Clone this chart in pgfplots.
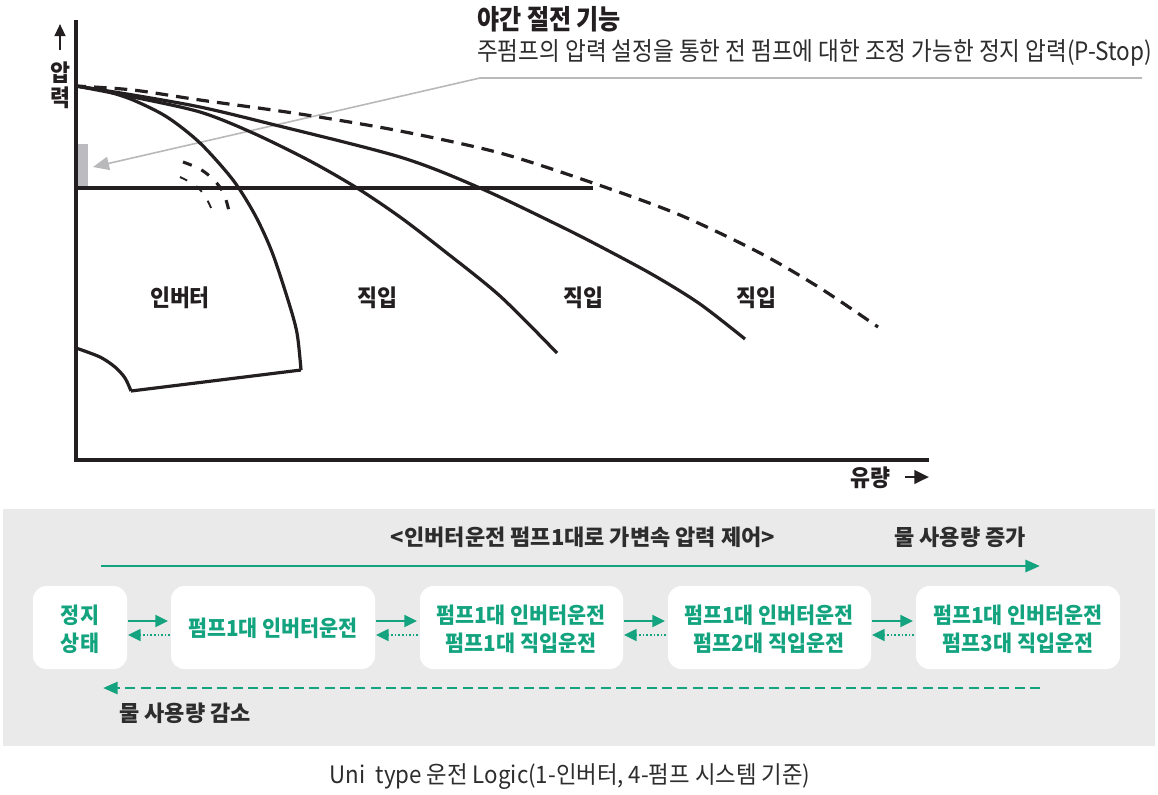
\documentclass[border=0pt]{standalone}
\usepackage{pgfplots}
\pgfplotsset{compat=1.18}
\usetikzlibrary{arrows.meta}
\usepackage{fontspec}
\setmainfont{Noto Sans CJK KR}

\definecolor{ink}{RGB}{35,31,32}
\definecolor{dk}{RGB}{45,45,45}
\definecolor{grn}{RGB}{19,163,127}
\definecolor{panel}{RGB}{234,234,234}
\definecolor{lead}{RGB}{185,185,187}
\definecolor{pstop}{RGB}{188,188,192}

\tikzset{
  curve/.style={ink, line width=2.4pt, smooth},
  lbl/.style={font=\bfseries\fontsize{17.5}{20}\selectfont, text=ink, inner sep=0pt, xscale=0.93},
  boxt/.style={font=\bfseries\fontsize{16.5}{21}\selectfont, text=grn, inner sep=0pt, align=center, xscale=0.94},
  hdr/.style={font=\bfseries\fontsize{16.5}{19}\selectfont, text=dk, inner sep=0pt, xscale=1.0},
}

\begin{document}
\begin{tikzpicture}
\begin{axis}[
    width=868.5pt, height=595.5pt, scale only axis, hide axis,
    xmin=0, xmax=1158, ymin=0, ymax=794, y dir=reverse, clip=false,
]
% page
\addplot[draw=none, fill=white] coordinates {(0,0) (1158,0) (1158,794) (0,794)} -- cycle;

% ---- pump curve diagram ----
% axes
\addplot[ink, line width=2.4pt] coordinates {(76,20) (76,460) (929,460)};
\addplot[ink, line width=1.6pt, -{Triangle[length=9pt,width=8pt]}] coordinates {(60,50) (60,24)};
\addplot[ink, line width=2.2pt, -{Triangle[length=11pt,width=10pt]}] coordinates {(905,477) (929,477)};

% p-stop marker and level
\addplot[draw=none, fill=pstop] coordinates {(78,144) (88,144) (88,187) (78,187)} -- cycle;
\addplot[ink, line width=2.4pt] coordinates {(76,188) (593,188)};

% leader from the note
\addplot[lead, line width=1.2pt, -{Triangle[length=12pt,width=10pt]}] coordinates {(1142,78) (480,78) (93,167)};

% inverter curve and operating region
\addplot[curve] coordinates {
    (76,86) (105,91) (133,100) (167,117) (200,143) (233,180)
    (255,215) (272,252) (288,300) (297,333) (301,370)
};
\addplot[ink, line width=2.4pt] coordinates {(301,370) (131,391)};
\addplot[curve] coordinates {(131,391) (125,378) (115,367) (100,357) (76,348)};

% direct-on-line curves
\addplot[curve] coordinates {
    (76,86) (133,97) (200,112) (253,133) (310,161) (357,188)
    (400,217) (443,250) (500,296) (557,353)
};
\addplot[curve] coordinates {
    (76,86) (133,95) (200,107) (267,123) (400,157) (480,188)
    (560,226) (607,250) (655,276) (700,304) (745,339)
};
% dashed maximum curve
\addplot[curve, dash pattern=on 9.5pt off 6pt, dash phase=2pt] coordinates {
    (76,86) (133,90) (200,100) (300,114) (400,131) (500,153)
    (593,183) (680,215) (760,253) (820,288) (878,327)
};

% small dashed arcs
\addplot[ink, line width=2.3pt, smooth, dash pattern=on 7pt off 8pt] coordinates {
    (183,162) (200,169) (214,180) (224,194) (230,215)
};
\addplot[ink, line width=1.4pt, smooth, dash pattern=on 6pt off 8pt] coordinates {
    (180,177) (195,185) (205,196) (212,210)
};

% texts
\node[anchor=west, font=\bfseries\fontsize{20.5}{23}\selectfont, text=ink, inner sep=0pt, xscale=0.88]
    at (axis cs:477,19) {야간 절전 기능};
\node[anchor=west, font=\fontsize{19}{22}\selectfont, text=dk, inner sep=0pt, xscale=0.89]
    at (axis cs:477,53) {주펌프의 압력 설정을 통한 전 펌프에 대한 조정 가능한 정지 압력(P-Stop)};
\node[lbl] at (axis cs:60,73) {압};
\node[lbl] at (axis cs:60,98) {력};
\node[lbl] at (axis cs:180,298) {인버터};
\node[lbl] at (axis cs:377,298) {직입};
\node[lbl] at (axis cs:583,298) {직입};
\node[lbl] at (axis cs:756,298) {직입};
\node[lbl, anchor=east] at (axis cs:891,478) {유량};

% ---- operating logic panel ----
\addplot[draw=none, fill=panel] coordinates {(3,509) (1155,509) (1155,746) (3,746)} -- cycle;

\node[hdr] at (axis cs:583,537) {<인버터운전 펌프1대로 가변속 압력 제어>};
\node[hdr] at (axis cs:960,537) {물 사용량 증가};
\node[hdr] at (axis cs:185,713) {물 사용량 감소};

\addplot[grn, line width=2.2pt, -{Triangle[length=11pt,width=9pt]}] coordinates {(101,566) (1040,566)};
\addplot[grn, line width=2.2pt, dash pattern=on 7.5pt off 4pt, -{Triangle[length=11pt,width=9pt]}]
    coordinates {(1040,688) (103,688)};

% boxes (start mid top edge so every corner is rounded)
\addplot[draw=none, fill=white, rounded corners=10pt] coordinates {(80,586) (127,586) (127,669) (33,669) (33,586)} -- cycle;
\addplot[draw=none, fill=white, rounded corners=10pt] coordinates {(273,586) (375,586) (375,669) (171,669) (171,586)} -- cycle;
\addplot[draw=none, fill=white, rounded corners=10pt] coordinates {(521,586) (623,586) (623,669) (420,669) (420,586)} -- cycle;
\addplot[draw=none, fill=white, rounded corners=10pt] coordinates {(769,586) (871,586) (871,669) (668,669) (668,586)} -- cycle;
\addplot[draw=none, fill=white, rounded corners=10pt] coordinates {(1018,586) (1120,586) (1120,669) (916,669) (916,586)} -- cycle;

\node[boxt] at (axis cs:80,629) {정지\\상태};
\node[boxt] at (axis cs:273,628) {펌프1대 인버터운전};
\node[boxt] at (axis cs:521,629) {펌프1대 인버터운전\\펌프1대 직입운전};
\node[boxt] at (axis cs:769,629) {펌프1대 인버터운전\\펌프2대 직입운전};
\node[boxt] at (axis cs:1018,629) {펌프1대 인버터운전\\펌프3대 직입운전};

% step arrows between boxes
\addplot[grn, line width=1.5pt, -{Triangle[length=9.5pt,width=9pt]}] coordinates {(128,621) (168,621)};
\addplot[grn, line width=1.5pt, -{Triangle[length=9.5pt,width=9pt]}] coordinates {(376,621) (417,621)};
\addplot[grn, line width=1.5pt, -{Triangle[length=9.5pt,width=9pt]}] coordinates {(624,621) (665,621)};
\addplot[grn, line width=1.5pt, -{Triangle[length=9.5pt,width=9pt]}] coordinates {(872,621) (913,621)};
\addplot[grn, line width=1.2pt, dash pattern=on 1.2pt off 1.5pt, -{Triangle[length=9.5pt,width=9pt]}] coordinates {(170,635) (128,635)};
\addplot[grn, line width=1.2pt, dash pattern=on 1.2pt off 1.5pt, -{Triangle[length=9.5pt,width=9pt]}] coordinates {(418,635) (376,635)};
\addplot[grn, line width=1.2pt, dash pattern=on 1.2pt off 1.5pt, -{Triangle[length=9.5pt,width=9pt]}] coordinates {(666,635) (624,635)};
\addplot[grn, line width=1.2pt, dash pattern=on 1.2pt off 1.5pt, -{Triangle[length=9.5pt,width=9pt]}] coordinates {(914,635) (872,635)};

% caption
\node[font=\fontsize{18}{21}\selectfont, text=dk, inner sep=0pt, xscale=0.93]
    at (axis cs:570,777) {Uni\ \ type 운전 Logic(1-인버터, 4-펌프 시스템 기준)};
\end{axis}
\end{tikzpicture}
\end{document}
